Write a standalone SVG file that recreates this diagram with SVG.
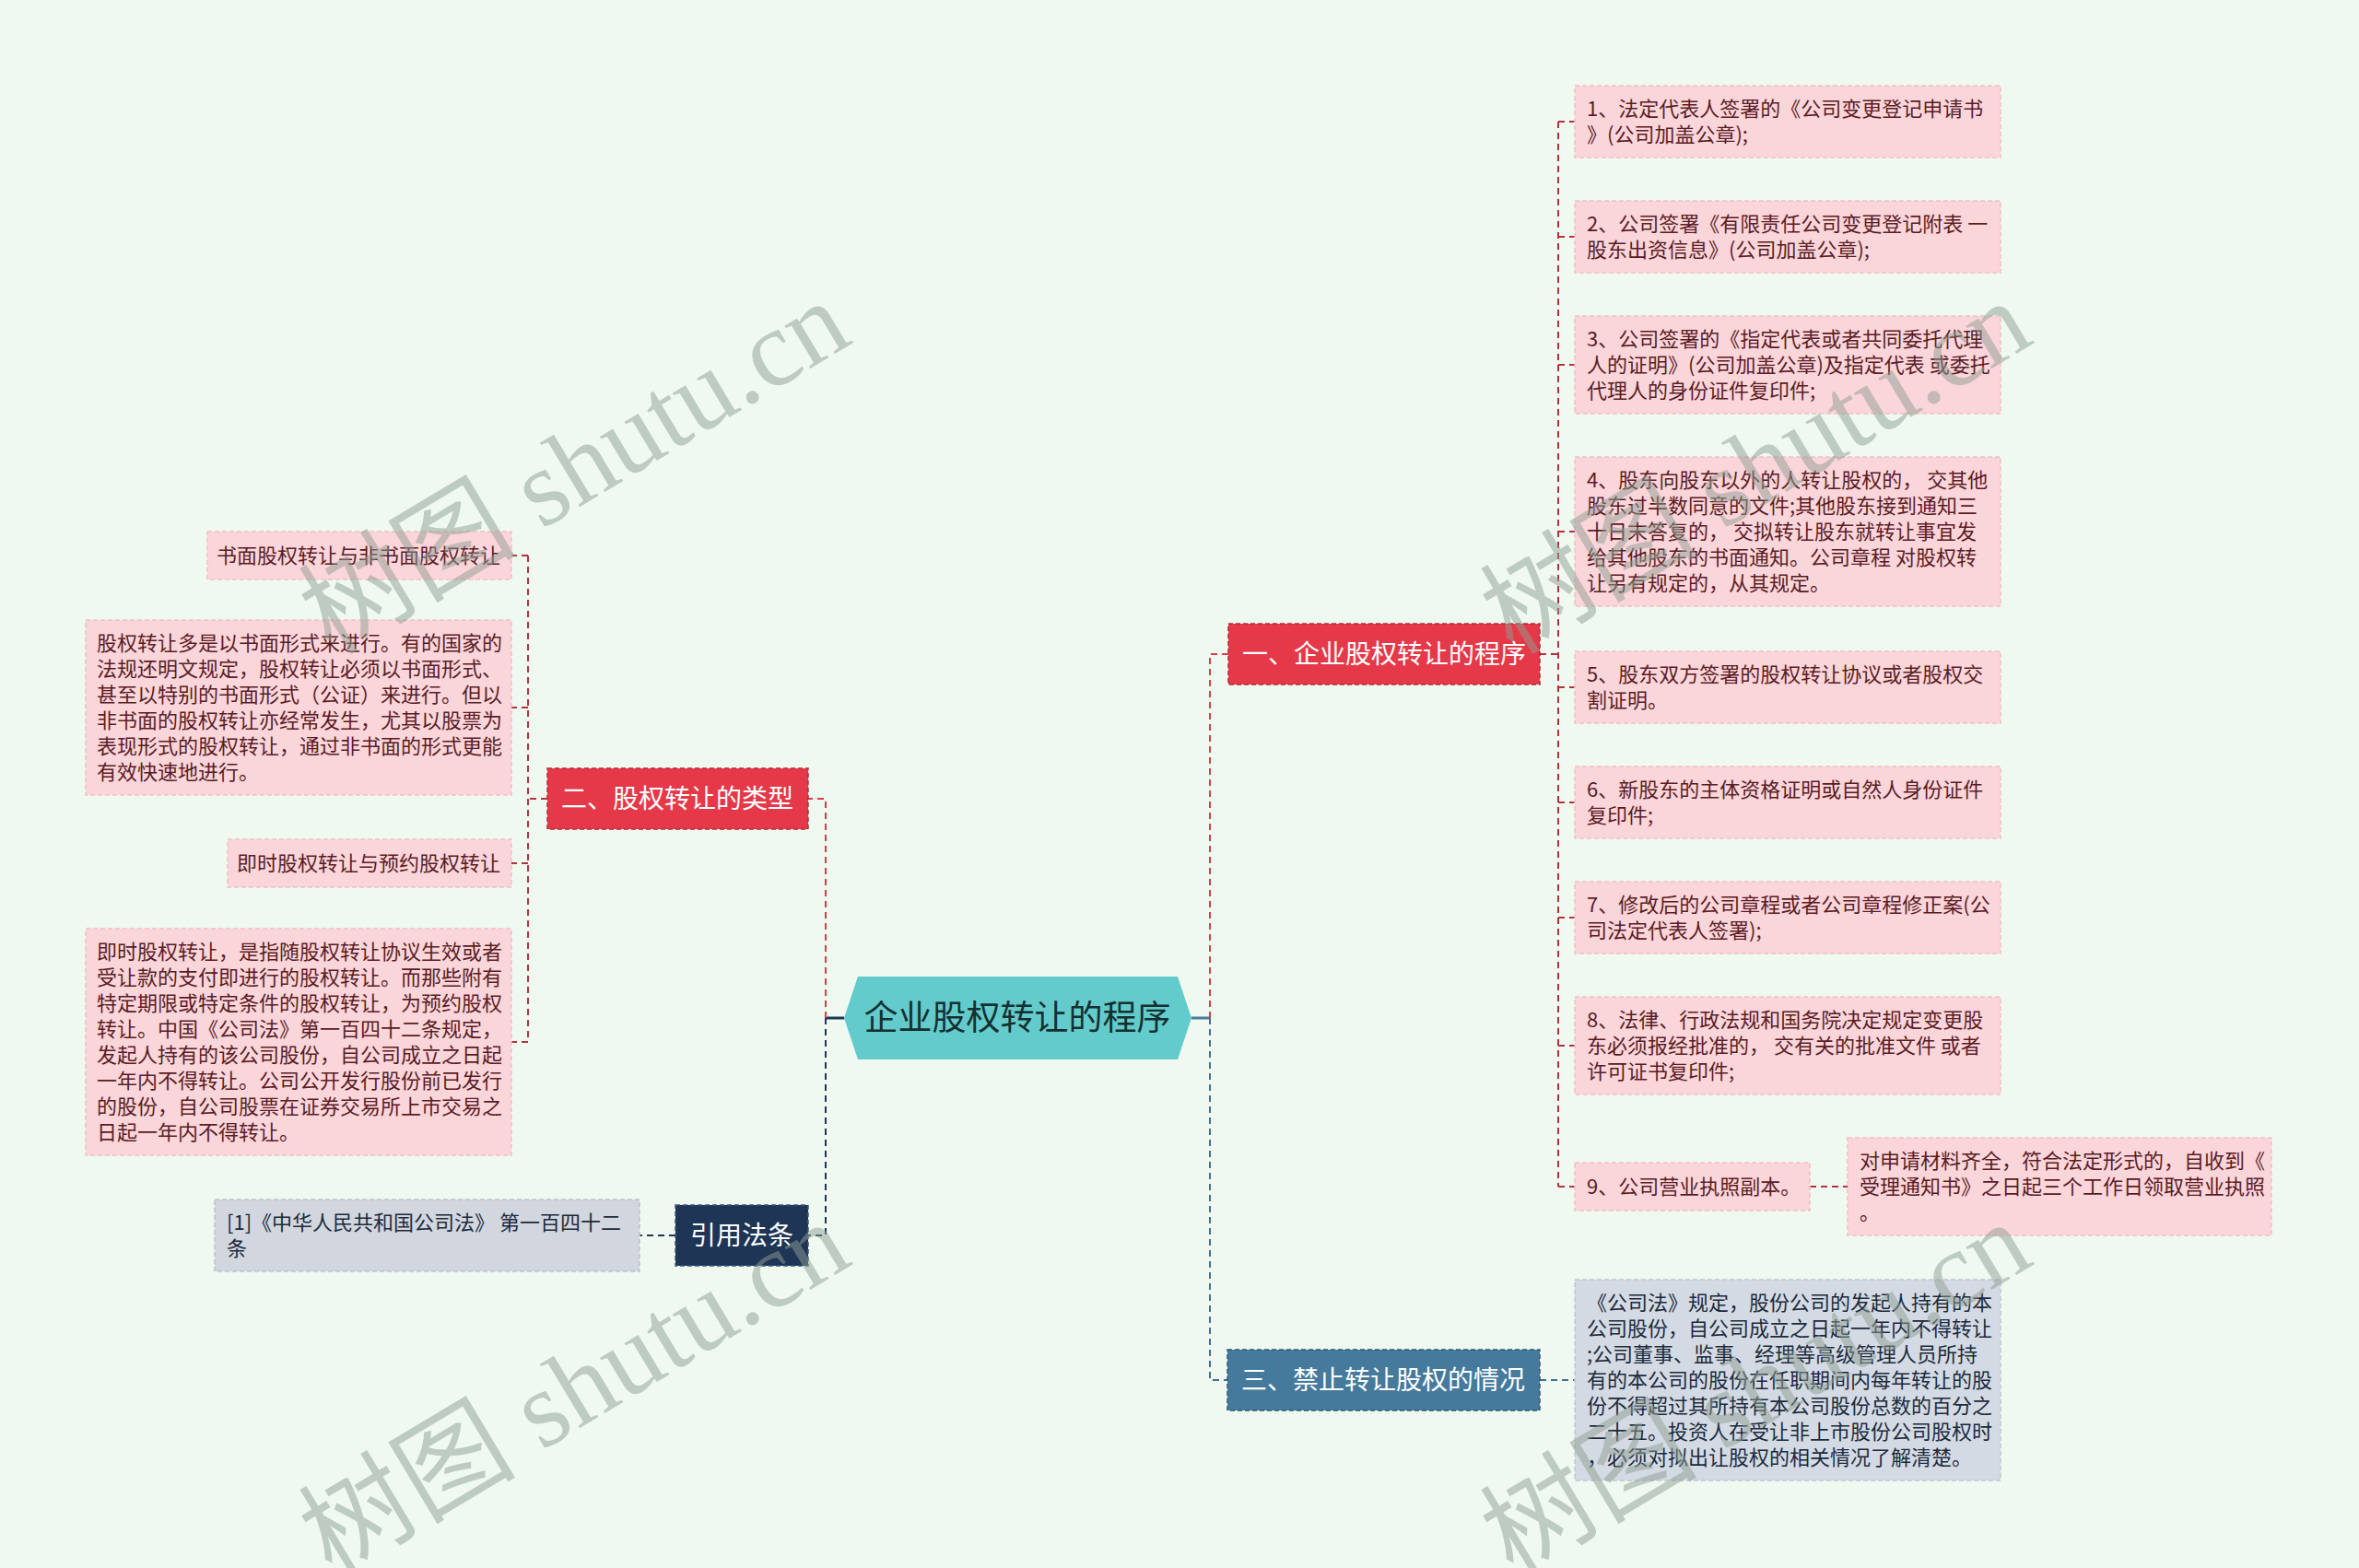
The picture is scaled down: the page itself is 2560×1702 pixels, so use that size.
<svg xmlns="http://www.w3.org/2000/svg" width="2560" height="1702" viewBox="0 0 2560 1702">
<style>
.bg{fill:#eff9ef}
.pink{fill:#fad5da;stroke:#f2bfc6;stroke-width:1.5;stroke-dasharray:5 3}
.grey{fill:#d3dae3;stroke:#bfc8d3;stroke-width:1.5;stroke-dasharray:5 3}
.greyl{fill:#d2d6de;stroke:#bcc2cc;stroke-width:1.5;stroke-dasharray:5 3}
.t{font-family:"Noto Sans CJK SC","Noto Sans",sans-serif;font-size:22px;fill:#5a1c24}
.tg{font-family:"Noto Sans CJK SC","Noto Sans",sans-serif;font-size:22px;fill:#1c2a3c}
.tb{font-family:"Noto Sans CJK SC","Noto Sans",sans-serif;font-size:28px;fill:#ffffff;text-anchor:middle}
.tc{font-family:"Noto Sans CJK SC","Noto Sans",sans-serif;font-size:37px;fill:#14302f;text-anchor:middle}
.c{fill:none;stroke-width:2;stroke-dasharray:7 5}
.red{stroke:#dc3a4a}
.dred{stroke:#b3323f}
.blue{stroke:#3f6f92}
.navy{stroke:#1e3556}
.wm{font-family:"Liberation Serif","Noto Sans CJK SC",serif;font-size:118px;fill:#8f9e93;opacity:0.5}
</style>
<rect class="bg" x="0" y="0" width="2560" height="1702"/>

<g id="connectors">
  <!-- center to right -->
  <line x1="1293" y1="1105" x2="1313" y2="1105" stroke="#4a7c9b" stroke-width="3"/>
  <path class="c red" d="M1313 1105 V710 H1333"/>
  <path class="c blue" d="M1313 1105 V1498 H1332"/>
  <!-- center to left -->
  <line x1="916" y1="1105" x2="896" y2="1105" stroke="#1e3556" stroke-width="3"/>
  <path class="c red" d="M896 1105 V867 H877"/>
  <path class="c navy" d="M896 1105 V1341 H877"/>
  <!-- branch one children -->
  <path class="c dred" d="M1671 710 H1691"/>
  <path class="c dred" d="M1691 132 V1288"/>
  <path class="c dred" d="M1691 132 H1709 M1691 257 H1709 M1691 396 H1709 M1691 577 H1709 M1691 746 H1709 M1691 871 H1709 M1691 996 H1709 M1691 1135 H1709 M1691 1288 H1709"/>
  <path class="c dred" d="M1964 1288 H2005"/>
  <!-- branch two children -->
  <path class="c dred" d="M594 867 H573"/>
  <path class="c dred" d="M573 603 V1131"/>
  <path class="c dred" d="M573 603 H555 M573 768 H555 M573 937 H555 M573 1131 H555"/>
  <!-- branch three child -->
  <path class="c blue" d="M1671 1498 H1709"/>
  <!-- citation child -->
  <path class="c navy" d="M733 1341 H694"/>
</g>

<g id="center">
  <polygon points="916,1105 931,1060 1278,1060 1293,1105 1278,1150 931,1150" fill="#63cbcc"/>
  <text class="tc" x="1104" y="1118">企业股权转让的程序</text>
</g>

<g id="branch1">
  <rect x="1333" y="677" width="338" height="66" fill="#e5394a" stroke="#b52a38" stroke-width="1.5" stroke-dasharray="5 3"/>
  <text class="tb" x="1502" y="720">一、企业股权转让的程序</text>
</g>
<g id="branch2">
  <rect x="594" y="834" width="283" height="66" fill="#e5394a" stroke="#b52a38" stroke-width="1.5" stroke-dasharray="5 3"/>
  <text class="tb" x="735" y="877">二、股权转让的类型</text>
</g>
<g id="branch3">
  <rect x="1332" y="1465" width="339" height="66" fill="#467a9c" stroke="#2f5a78" stroke-width="1.5" stroke-dasharray="5 3"/>
  <text class="tb" x="1501" y="1508">三、禁止转让股权的情况</text>
</g>
<g id="branch4">
  <rect x="733" y="1308" width="144" height="66" fill="#1e3556" stroke="#3c5578" stroke-width="1.5" stroke-dasharray="5 3"/>
  <text class="tb" x="805" y="1351">引用法条</text>
</g>

<g id="r1"><rect class="pink" x="1709" y="93" width="462" height="78"/>
<text class="t" x="1722" y="126">1、法定代表人签署的《公司变更登记申请书</text>
<text class="t" x="1722" y="154">》(公司加盖公章);</text></g>
<g id="r2"><rect class="pink" x="1709" y="218" width="462" height="78"/>
<text class="t" x="1722" y="251">2、公司签署《有限责任公司变更登记附表 一</text>
<text class="t" x="1722" y="279">股东出资信息》(公司加盖公章);</text></g>
<g id="r3"><rect class="pink" x="1709" y="343" width="462" height="106"/>
<text class="t" x="1722" y="376">3、公司签署的《指定代表或者共同委托代理</text>
<text class="t" x="1722" y="404">人的证明》(公司加盖公章)及指定代表 或委托</text>
<text class="t" x="1722" y="432">代理人的身份证件复印件;</text></g>
<g id="r4"><rect class="pink" x="1709" y="496" width="462" height="162"/>
<text class="t" x="1722" y="529">4、股东向股东以外的人转让股权的， 交其他</text>
<text class="t" x="1722" y="557">股东过半数同意的文件;其他股东接到通知三</text>
<text class="t" x="1722" y="585">十日末答复的， 交拟转让股东就转让事宜发</text>
<text class="t" x="1722" y="613">给其他股东的书面通知。公司章程 对股权转</text>
<text class="t" x="1722" y="641">让另有规定的，从其规定。</text></g>
<g id="r5"><rect class="pink" x="1709" y="707" width="462" height="78"/>
<text class="t" x="1722" y="740">5、股东双方签署的股权转让协议或者股权交</text>
<text class="t" x="1722" y="768">割证明。</text></g>
<g id="r6"><rect class="pink" x="1709" y="832" width="462" height="78"/>
<text class="t" x="1722" y="865">6、新股东的主体资格证明或自然人身份证件</text>
<text class="t" x="1722" y="893">复印件;</text></g>
<g id="r7"><rect class="pink" x="1709" y="957" width="462" height="78"/>
<text class="t" x="1722" y="990">7、修改后的公司章程或者公司章程修正案(公</text>
<text class="t" x="1722" y="1018">司法定代表人签署);</text></g>
<g id="r8"><rect class="pink" x="1709" y="1082" width="462" height="106"/>
<text class="t" x="1722" y="1115">8、法律、行政法规和国务院决定规定变更股</text>
<text class="t" x="1722" y="1143">东必须报经批准的， 交有关的批准文件 或者</text>
<text class="t" x="1722" y="1171">许可证书复印件;</text></g>
<g id="r9"><rect class="pink" x="1709" y="1262" width="255" height="52"/>
<text class="t" x="1722" y="1296">9、公司营业执照副本。</text></g>
<g id="r9c"><rect class="pink" x="2005" y="1235" width="460" height="106"/>
<text class="t" x="2018" y="1268">对申请材料齐全，符合法定形式的，自收到《</text>
<text class="t" x="2018" y="1296">受理通知书》之日起三个工作日领取营业执照</text>
<text class="t" x="2018" y="1324">。</text></g>

<g id="r3c"><rect class="grey" x="1709" y="1389" width="462" height="218"/>
<text class="tg" x="1722" y="1422">《公司法》规定，股份公司的发起人持有的本</text>
<text class="tg" x="1722" y="1450">公司股份，自公司成立之日起一年内不得转让</text>
<text class="tg" x="1722" y="1478">;公司董事、监事、经理等高级管理人员所持</text>
<text class="tg" x="1722" y="1506">有的本公司的股份在任职期间内每年转让的股</text>
<text class="tg" x="1722" y="1534">份不得超过其所持有本公司股份总数的百分之</text>
<text class="tg" x="1722" y="1562">二十五。投资人在受让非上市股份公司股权时</text>
<text class="tg" x="1722" y="1590">，必须对拟出让股权的相关情况了解清楚。</text></g>

<g id="l1"><rect class="pink" x="225" y="577" width="330" height="52"/>
<text class="t" x="543" y="611" text-anchor="end">书面股权转让与非书面股权转让</text></g>
<g id="l2"><rect class="pink" x="93" y="673" width="462" height="190"/>
<text class="t" x="105" y="706">股权转让多是以书面形式来进行。有的国家的</text>
<text class="t" x="105" y="734">法规还明文规定，股权转让必须以书面形式、</text>
<text class="t" x="105" y="762">甚至以特别的书面形式（公证）来进行。但以</text>
<text class="t" x="105" y="790">非书面的股权转让亦经常发生，尤其以股票为</text>
<text class="t" x="105" y="818">表现形式的股权转让，通过非书面的形式更能</text>
<text class="t" x="105" y="846">有效快速地进行。</text></g>
<g id="l3"><rect class="pink" x="247" y="911" width="308" height="52"/>
<text class="t" x="543" y="945" text-anchor="end">即时股权转让与预约股权转让</text></g>
<g id="l4"><rect class="pink" x="93" y="1008" width="462" height="246"/>
<text class="t" x="105" y="1041">即时股权转让，是指随股权转让协议生效或者</text>
<text class="t" x="105" y="1069">受让款的支付即进行的股权转让。而那些附有</text>
<text class="t" x="105" y="1097">特定期限或特定条件的股权转让，为预约股权</text>
<text class="t" x="105" y="1125">转让。中国《公司法》第一百四十二条规定，</text>
<text class="t" x="105" y="1153">发起人持有的该公司股份，自公司成立之日起</text>
<text class="t" x="105" y="1181">一年内不得转让。公司公开发行股份前已发行</text>
<text class="t" x="105" y="1209">的股份，自公司股票在证券交易所上市交易之</text>
<text class="t" x="105" y="1237">日起一年内不得转让。</text></g>

<g id="cite"><rect class="greyl" x="233" y="1302" width="461" height="78"/>
<text class="tg" x="246" y="1335">[1]《中华人民共和国公司法》 第一百四十二</text>
<text class="tg" x="246" y="1363">条</text></g>

<g id="watermarks">
  <text class="wm" transform="translate(360,712) rotate(-31)">树图 shutu.cn</text>
  <text class="wm" transform="translate(1642,712) rotate(-31)">树图 shutu.cn</text>
  <text class="wm" transform="translate(360,1712) rotate(-31)">树图 shutu.cn</text>
  <text class="wm" transform="translate(1642,1712) rotate(-31)">树图 shutu.cn</text>
</g>
</svg>
